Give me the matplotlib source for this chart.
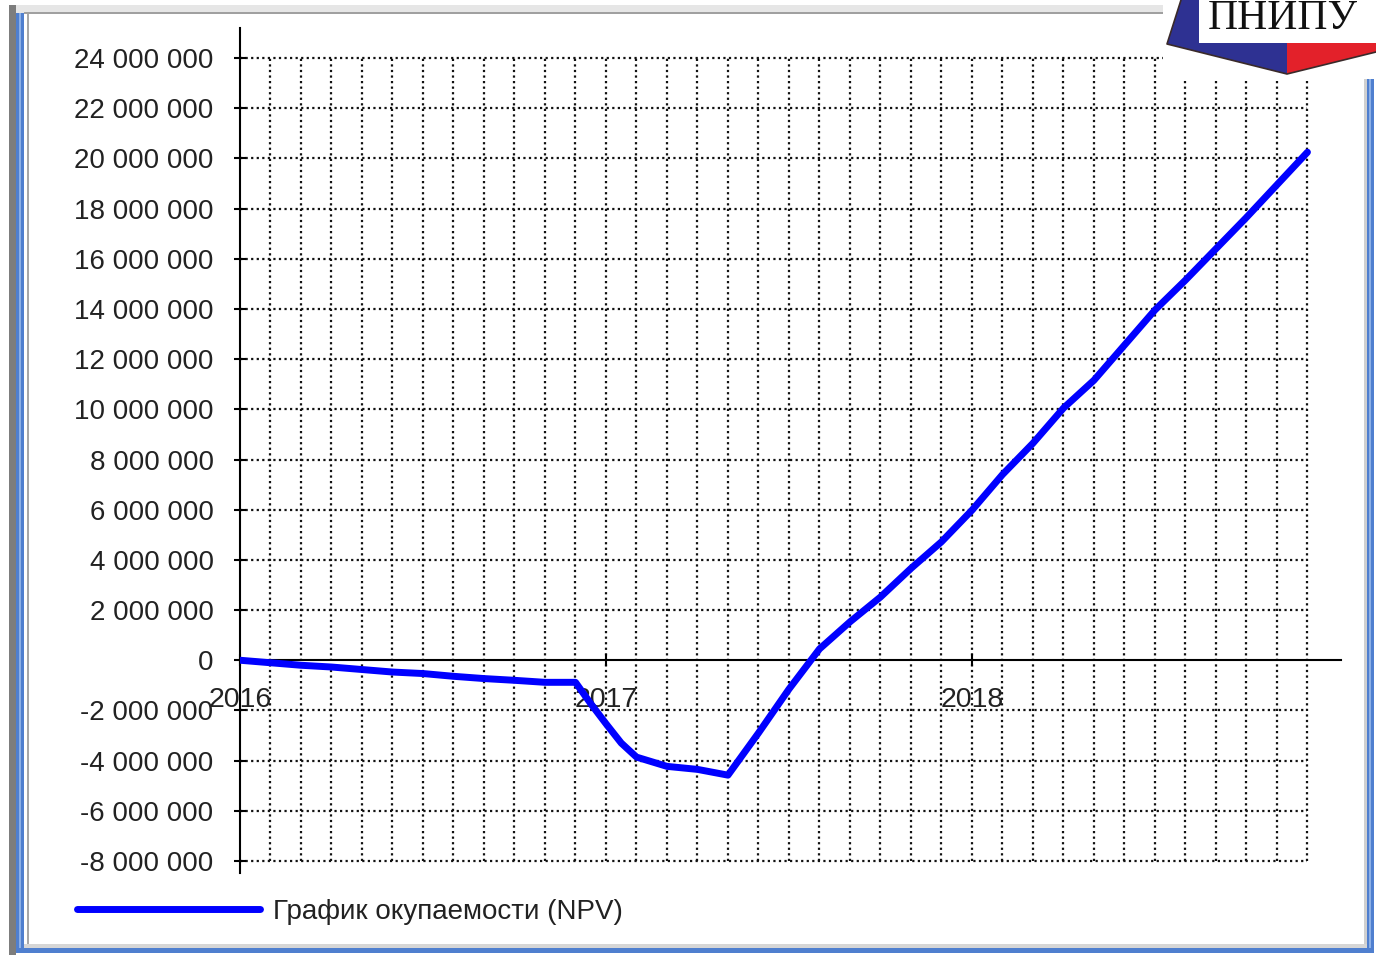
import numpy as np
import matplotlib
matplotlib.use("Agg")
import matplotlib.pyplot as plt
from matplotlib.patches import Rectangle, Polygon

# --- data (months from Jan 2016, NPV in millions) ---
months = [0, 1, 2, 3, 4, 5, 6, 7, 8, 9, 10, 11, 11.5, 12, 12.5, 13, 14, 15, 16,
          17, 18, 19, 20, 21, 22, 23, 24, 25, 26, 27, 28, 29, 30, 31, 32, 33, 34, 35]
npv_mln = [0, -0.1, -0.2, -0.27, -0.37, -0.47, -0.53, -0.64, -0.73, -0.8, -0.88, -0.88,
           -1.73, -2.53, -3.3, -3.86, -4.23, -4.35, -4.58,
           -2.9, -1.15, 0.45, 1.53, 2.52, 3.66, 4.72, 5.98, 7.4, 8.65, 10.05, 11.16,
           12.56, 13.96, 15.15, 16.4, 17.65, 18.95, 20.25]
year_pos = [0, 12, 24]
year_labels = ["2016", "2017", "2018"]
y_ticks = np.arange(-8, 25, 2) * 1_000_000
legend_label = "График окупаемости (NPV)"

W, H = 1376, 955
fig = plt.figure(figsize=(W / 100, H / 100), dpi=100)
fig.patch.set_facecolor("white")

# main chart axes, placed in pixels
left, right, top, bottom = 240, 1341, 28, 873
ax = fig.add_axes([left / W, (H - bottom) / H, (right - left) / W, (bottom - top) / H])
ax.set_facecolor("none")
ax.set_xlim(0, 36.1)
ax.set_ylim(-8.48e6, 25.2e6)

# dotted grid, only inside the -8M..24M / month 0..35 box
grid_kw = dict(colors="#111111", linewidth=1.6, linestyles=(0, (1, 1.5)), zorder=1)
ax.vlines(np.arange(1, 36), -8e6, 24e6, **grid_kw)
ax.hlines([t for t in y_ticks if t != 0], 0, 35, **grid_kw)

npv = np.array(npv_mln) * 1_000_000
ax.plot(months, npv, color="#0000ff", linewidth=5, solid_joinstyle="round",
        solid_capstyle="round", zorder=3, label=legend_label)

for s in ["top", "right"]:
    ax.spines[s].set_visible(False)
ax.spines["bottom"].set_position(("data", 0))
ax.spines["left"].set_linewidth(1.5)
ax.spines["bottom"].set_linewidth(1.5)

ax.set_yticks(y_ticks)
ax.set_yticklabels([f"{int(v):,}".replace(",", " ") for v in y_ticks])
ax.set_xticks(year_pos)
ax.set_xticklabels(year_labels)
ax.tick_params(axis="y", direction="inout", length=8, width=1.5, pad=15,
               labelsize=20, labelcolor="#222222")
ax.tick_params(axis="x", direction="inout", length=8, width=1.5, pad=15,
               labelsize=20.5, labelcolor="#222222")
for lab in ax.get_xticklabels() + ax.get_yticklabels():
    lab.set_family("Liberation Sans")

leg = fig.legend(loc="center left", bbox_to_anchor=(77 / W, 1 - 912 / H),
                 frameon=False, borderpad=0, borderaxespad=0,
                 handlelength=6.6, handletextpad=0.45,
                 prop={"family": "Liberation Sans", "size": 20})
for t in leg.get_texts():
    t.set_color("#222222")

# --- window frame and logo, drawn in pixel coordinates on top ---
ov = fig.add_axes([0, 0, 1, 1], zorder=10)
ov.set_xlim(0, W)
ov.set_ylim(H, 0)
ov.axis("off")
ov.patch.set_visible(False)


def box(x, y, w, h, color):
    ov.add_patch(Rectangle((x, y), w, h, facecolor=color, edgecolor="none"))


# left edge
box(9, 5, 7, H - 5, "#7d7d7d")
box(16, 5, 8, 948 - 5, "#4f7fcf")
box(19, 5, 2, 948 - 5, "#8db0e6")
box(27, 13, 2, 932, "#a8a8a8")
# top edge
box(16, 5, 1150, 8, "#e6e6e6")
box(24, 12, 1142, 2, "#a0a0a0")
# right edge
box(1364, 78, 3, 870, "#d0d0d0")
box(1367, 78, 7, 875, "#4f7fcf")
box(1369, 78, 2, 870, "#8db0e6")
# bottom edge
box(24, 944, 1343, 4, "#d6d6d6")
box(16, 948, 1358, 5, "#4f7fcf")

# logo
box(1163, 0, W - 1163, 79, "white")
ov.add_patch(Polygon([(1181, 0), (1167, 44), (1287, 74), (1287, 0)],
                     closed=True, facecolor="#2e3192", edgecolor="none"))
ov.add_patch(Polygon([(1287, 0), (1287, 74), (1376, 52), (1376, 0)],
                     closed=True, facecolor="#e3212a", edgecolor="none"))
ov.plot([1181, 1167, 1287, 1376], [0, 44, 74, 52], color="#3a2a2a", linewidth=1.2)
box(1199, 0, W - 1199, 43, "white")
ov.text(1283, 29, "ПНИПУ", ha="center", va="baseline", fontsize=30,
        family="Liberation Serif", color="#111111")

fig.savefig("out.png", dpi=100)
